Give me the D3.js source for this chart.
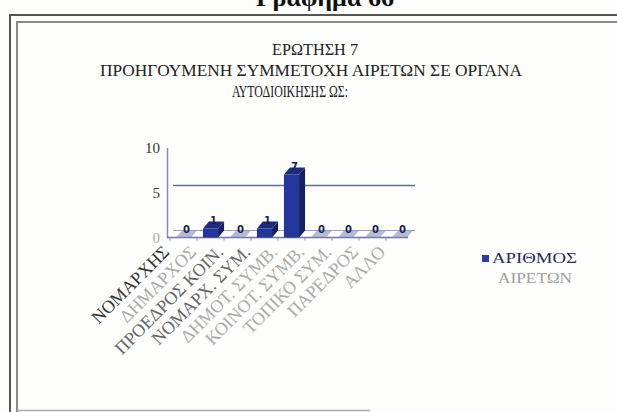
<!DOCTYPE html>
<html>
<head>
<meta charset="utf-8">
<script src="https://cdn.jsdelivr.net/npm/d3@7"></script>
<style>
html,body{margin:0;padding:0;background:#fdfdfb;}
svg{display:block;}
</style>
</head>
<body>
<svg id="c" width="617" height="412"></svg>
<script>
const categories = ["ΝΟΜΑΡΧΗΣ","ΔΗΜΑΡΧΟΣ","ΠΡΟΕΔΡΟΣ ΚΟΙΝ.","ΝΟΜΑΡΧ. ΣΥΜ.","ΔΗΜΟΤ. ΣΥΜΒ.","ΚΟΙΝΟΤ. ΣΥΜΒ.","ΤΟΠΙΚΟ ΣΥΜ.","ΠΑΡΕΔΡΟΣ","ΑΛΛΟ"];
const values = [0,1,0,1,7,0,0,0,0];
const yTicks = [0,5,10];
const pageTitle = "Γράφημα 66";
const titleLines = ["ΕΡΩΤΗΣΗ 7","ΠΡΟΗΓΟΥΜΕΝΗ ΣΥΜΜΕΤΟΧΗ ΑΙΡΕΤΩΝ ΣΕ ΟΡΓΑΝΑ","ΑΥΤΟΔΙΟΙΚΗΣΗΣ ΩΣ:"];
const legendLines = ["ΑΡΙΘΜΟΣ","ΑΙΡΕΤΩΝ"];

const svg = d3.select("#c");
const serif = "'Liberation Serif','DejaVu Serif',serif";

// page frame
svg.append("text").attr("x",325).attr("y",6).attr("text-anchor","middle")
  .attr("font-family",serif).attr("font-weight","bold").attr("font-size",20)
  .attr("textLength",138).attr("lengthAdjust","spacingAndGlyphs")
  .attr("fill","#111").text(pageTitle);
svg.append("path").attr("d","M10,412 V15 H617").attr("fill","none").attr("stroke","#555").attr("stroke-width",2);
svg.append("path").attr("d","M17,412 V22 H617").attr("fill","none").attr("stroke","#888").attr("stroke-width",2);
svg.append("line").attr("x1",17).attr("x2",370).attr("y1",410.5).attr("y2",410.5).attr("stroke","#aaa").attr("stroke-width",1.5);

// titles
const tl = [{x:315,y:55,w:86},{x:311,y:76,w:422},{x:290,y:97,w:116}];
titleLines.forEach((t,i)=>{
  svg.append("text").attr("x",tl[i].x).attr("y",tl[i].y).attr("text-anchor","middle")
    .attr("font-family",serif).attr("font-size",17)
    .attr("textLength",tl[i].w).attr("lengthAdjust","spacingAndGlyphs")
    .attr("fill","#222").text(t);
});

// scales
const y = d3.scaleLinear().domain([0,10]).range([237.5,147.5]);
const x = d3.scaleBand().domain(categories).range([170,413]).paddingInner(0.44).paddingOuter(0.22);
const dx = 6, dy = -7;

// back wall gridlines
const g = svg.append("g");
[0,5].forEach(v=>{
  g.append("line").attr("x1", 167+dx).attr("x2", 415).attr("y1", y(v)+dy).attr("y2", y(v)+dy)
    .attr("stroke", v===0 ? "#9aa0c8" : "#5d6cab").attr("stroke-width", v===0?1.2:1.5);
});

// y axis
const yAxis = d3.axisLeft(y).tickValues(yTicks).tickSize(0).tickPadding(7);
const ya = svg.append("g").attr("transform","translate(167,0)").call(yAxis);
ya.select(".domain").attr("stroke","#8a8cab").attr("stroke-width",1.5);
ya.selectAll("text").attr("font-family",serif).attr("font-size",15).attr("fill","#333");
ya.selectAll(".tick").filter(d=>d===0).select("text").attr("fill","#aaa");

// front baseline & ticks
svg.append("line").attr("x1",167).attr("x2",408).attr("y1",y(0)).attr("y2",y(0)).attr("stroke","#6e72a6").attr("stroke-width",1.5);
categories.forEach((c,i)=>{
  const xs = x(c) - x.step()*x.paddingInner()/2;
  svg.append("line").attr("x1",xs).attr("x2",xs).attr("y1",y(0)).attr("y2",y(0)+3).attr("stroke","#8a8cab");
});

// bars (3D)
const bw = x.bandwidth();
const bars = svg.append("g");
categories.forEach((c,i)=>{
  const v = values[i];
  const x0 = x(c), y0 = y(0), y1 = y(v);
  if (v > 0) {
    bars.append("path").attr("d",`M${x0+bw},${y1} L${x0+bw+dx},${y1+dy} L${x0+bw+dx},${y0+dy} L${x0+bw},${y0} Z`).attr("fill","#16205e");
    bars.append("rect").attr("x",x0).attr("y",y1).attr("width",bw).attr("height",y0-y1).attr("fill","#25369a");
    bars.append("path").attr("d",`M${x0},${y1} L${x0+dx},${y1+dy} L${x0+bw+dx},${y1+dy} L${x0+bw},${y1} Z`).attr("fill","#1d2b7a");
  } else {
    bars.append("path").attr("d",`M${x0},${y0} L${x0+dx},${y0+dy} L${x0+bw+dx},${y0+dy} L${x0+bw},${y0} Z`).attr("fill","#8890b8").attr("opacity",0.6);
  }
  svg.append("text").attr("x",x0+bw/2+dx/2).attr("y",y1+dy+2).attr("text-anchor","middle")
    .attr("font-family","'DejaVu Sans',sans-serif").attr("font-weight","bold").attr("font-size",10)
    .attr("fill","#1a2150").text(v);
});

// x labels rotated
const labelColor = ["#333","#aaa","#666","#666","#aaa","#aaa","#aaa","#aaa","#aaa"];
categories.forEach((c,i)=>{
  const cx = x(c) + bw/2 - 13;
  svg.append("text").attr("transform",`translate(${cx},253) rotate(-45)`)
    .attr("text-anchor","end").attr("font-family",serif).attr("font-size",18)
    .attr("fill",labelColor[i]).text(c);
});

// legend
svg.append("rect").attr("x",482).attr("y",255).attr("width",7).attr("height",7).attr("fill","#2b3c9b");
svg.append("text").attr("x",492).attr("y",263).attr("font-family",serif).attr("font-size",14)
  .attr("textLength",85).attr("lengthAdjust","spacingAndGlyphs").attr("fill","#262c5a").text(legendLines[0]);
svg.append("text").attr("x",498).attr("y",283).attr("font-family",serif).attr("font-size",14)
  .attr("textLength",74).attr("lengthAdjust","spacingAndGlyphs").attr("fill","#a0a0a0").text(legendLines[1]);
</script>
</body>
</html>
